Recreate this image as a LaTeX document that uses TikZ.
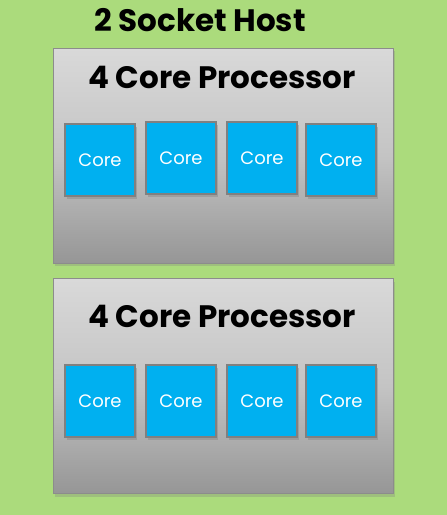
\documentclass[tikz,border=0pt]{standalone}
\usepackage{fontspec}
\setmainfont{Poppins}
\usetikzlibrary{positioning,shadows}
\definecolor{nenxanh}{RGB}{171,219,124}
\definecolor{lio}{RGB}{0,176,240}
\begin{document}
\begin{tikzpicture}[x=1pt, y=-1pt,
    chip/.style={draw=gray!90, line width=0.8pt, minimum width=340pt, minimum height=215pt,
        top color={rgb,255:red,217;green,217;blue,217}, bottom color={rgb,255:red,150;green,150;blue,150},
        middle color={rgb,255:red,196;green,196;blue,196},
        drop shadow={shadow xshift=2pt, shadow yshift=-3pt, opacity=0.3}},
    core/.style={fill=lio, draw=gray, line width=1.5pt, minimum width=70pt, minimum height=72pt,
        text=white, font=\fontsize{18}{20}\selectfont,
        drop shadow={shadow xshift=2pt, shadow yshift=-3pt, opacity=0.4}},
    tieude/.style={font=\bfseries\fontsize{31}{34}\selectfont}]
    % Nền
    \fill[nenxanh] (0,0) rectangle (447,515);
    \node[tieude] (host) at (200,20) {2 Socket Host};

    % Bộ xử lý 1
    \node[chip] (proc1) at (223,155.5) {};
    \node[tieude] (name1) at (222,77) {4 Core Processor};
    \foreach \x/\y [count=\i] in {100/160, 181/158, 262/158, 341/160}
        \node[core] (c1\i) at (\x,\y) {Core};

    % Bộ xử lý 2
    \node[chip] (proc2) at (223,386) {};
    \node[tieude] (name2) at (222,316) {4 Core Processor};
    \foreach \x/\y [count=\i] in {100/401, 181/401, 262/401, 341/401}
        \node[core] (c2\i) at (\x,\y) {Core};
\end{tikzpicture}
\end{document}
